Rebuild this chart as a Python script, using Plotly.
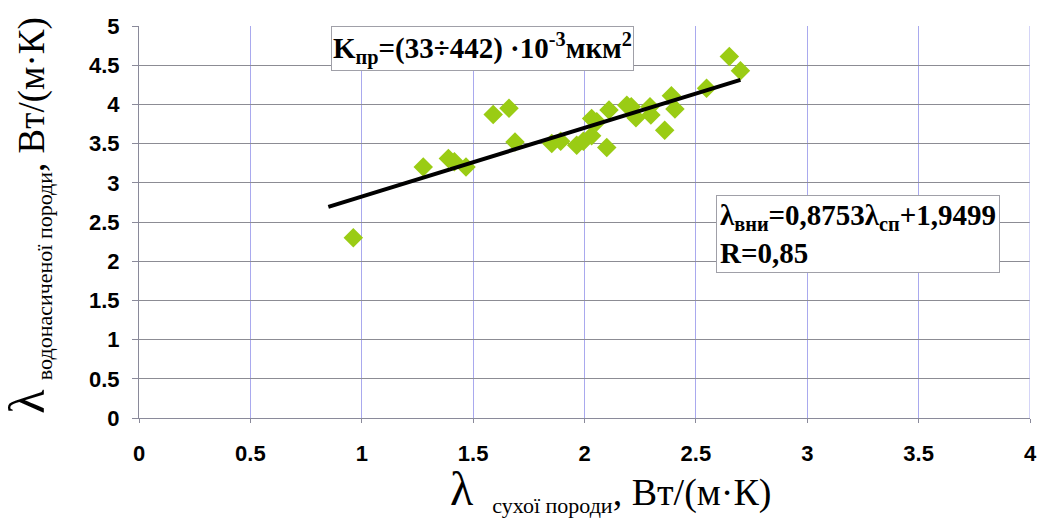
import plotly.graph_objects as go

# Thermal conductivity: dry rock (x) vs. water-saturated rock (y), W/(m·K)
lambda_dry = [0.962, 1.276, 1.389, 1.416, 1.468, 1.590, 1.661, 1.688,
              1.853, 1.893, 1.965, 1.995, 2.032, 2.032, 2.055, 2.100,
              2.110, 2.190, 2.210, 2.231, 2.294, 2.298, 2.360, 2.390,
              2.406, 2.548, 2.650, 2.700]
lambda_wet = [2.30, 3.20, 3.31, 3.27, 3.20, 3.87, 3.95, 3.52,
              3.50, 3.53, 3.48, 3.53, 3.60, 3.82, 3.78, 3.45,
              3.93, 3.99, 3.97, 3.83, 3.97, 3.865, 3.67, 4.11,
              3.94, 4.205, 4.61, 4.43]

# Linear regression reported on the chart
slope, intercept = 0.8753, 1.9499
fit_x = [0.85, 2.70]
fit_y = [slope * v + intercept for v in fit_x]

x_ticks = [0, 0.5, 1, 1.5, 2, 2.5, 3, 3.5, 4]
y_ticks = [0, 0.5, 1, 1.5, 2, 2.5, 3, 3.5, 4, 4.5, 5]

serif = "Liberation Serif, Times New Roman, serif"
sans = "Liberation Sans, Arial, sans-serif"

fig = go.Figure()
fig.add_trace(go.Scatter(
    x=lambda_dry, y=lambda_wet, mode="markers",
    marker=dict(symbol="diamond", size=15, color="#9acc14", line=dict(width=0)),
    showlegend=False,
))
fig.add_trace(go.Scatter(
    x=fit_x, y=fit_y, mode="lines",
    line=dict(color="black", width=4),
    showlegend=False,
))

fig.update_layout(
    width=1050, height=518,
    margin=dict(l=139, r=20, t=26, b=100),
    paper_bgcolor="white", plot_bgcolor="white",
    xaxis=dict(
        range=[0, 4], tickvals=x_ticks, ticktext=[f"{v:g}" for v in x_ticks],
        showgrid=True, gridcolor="#a9a9ee", gridwidth=1,
        zeroline=False, showline=True, linecolor="#8a8a9a", linewidth=1,
        ticks="outside", ticklen=4, tickcolor="#8a8a9a",
        ticklabelstandoff=12,
        tickfont=dict(family=sans, size=22, color="black", weight="bold"),
    ),
    yaxis=dict(
        range=[0, 5], tickvals=y_ticks, ticktext=[f"{v:g}" for v in y_ticks],
        showgrid=True, gridcolor="#8c8c94", gridwidth=1,
        zeroline=False, showline=True, linecolor="#8a8a9a", linewidth=1,
        ticks="outside", ticklen=6, tickcolor="#8a8a9a",
        ticklabelstandoff=8,
        tickfont=dict(family=sans, size=22, color="black", weight="bold"),
    ),
)

# Right border of the plotting area
fig.add_shape(type="line", xref="x", yref="paper", x0=4, x1=4, y0=0, y1=1,
              line=dict(color="#a9a9ee", width=1))

# Axis titles
fig.add_annotation(
    xref="paper", yref="paper", x=0.53, y=-0.184, xanchor="center", yanchor="middle",
    showarrow=False,
    text=("<span style='font-size:48px'>λ</span>  "
          "<sub><span style='font-size:22px'>сухої породи</span></sub>"
          "<span style='font-size:38px'>, Вт/(м·К)</span>"),
    font=dict(family=serif, size=38, color="black"),
)
fig.add_annotation(
    xref="paper", yref="paper", x=-0.124, y=0.515, xanchor="center", yanchor="middle",
    showarrow=False, textangle=-90,
    text=("<span style='font-size:50px'>λ</span> "
          "<sub><span style='font-size:22px'>водонасиченої породи</span></sub>"
          "<span style='font-size:37px'>, Вт/(м·К)</span>"),
    font=dict(family=serif, size=37, color="black"),
)

# Permeability range box
fig.add_annotation(
    xref="paper", yref="paper", x=0.215, y=1.0, xanchor="left", yanchor="top",
    showarrow=False,
    text="K<sub>пр</sub>=(33÷442) ·10<sup>-3</sup>мкм<sup>2</sup>",
    font=dict(family=serif, size=29, color="black", weight="bold"),
    bgcolor="white", bordercolor="#a0a0a8", borderwidth=1, borderpad=1,
)

# Regression equation box
fig.add_annotation(
    xref="paper", yref="paper", x=0.648, y=0.57, xanchor="left", yanchor="top",
    showarrow=False, align="left",
    text="λ<sub>вни</sub>=0,8753λ<sub>сп</sub>+1,9499<br>R=0,85",
    font=dict(family=serif, size=29, color="black", weight="bold"),
    bgcolor="white", bordercolor="#a0a0a8", borderwidth=1, borderpad=3,
)

fig.write_html("out.html")
